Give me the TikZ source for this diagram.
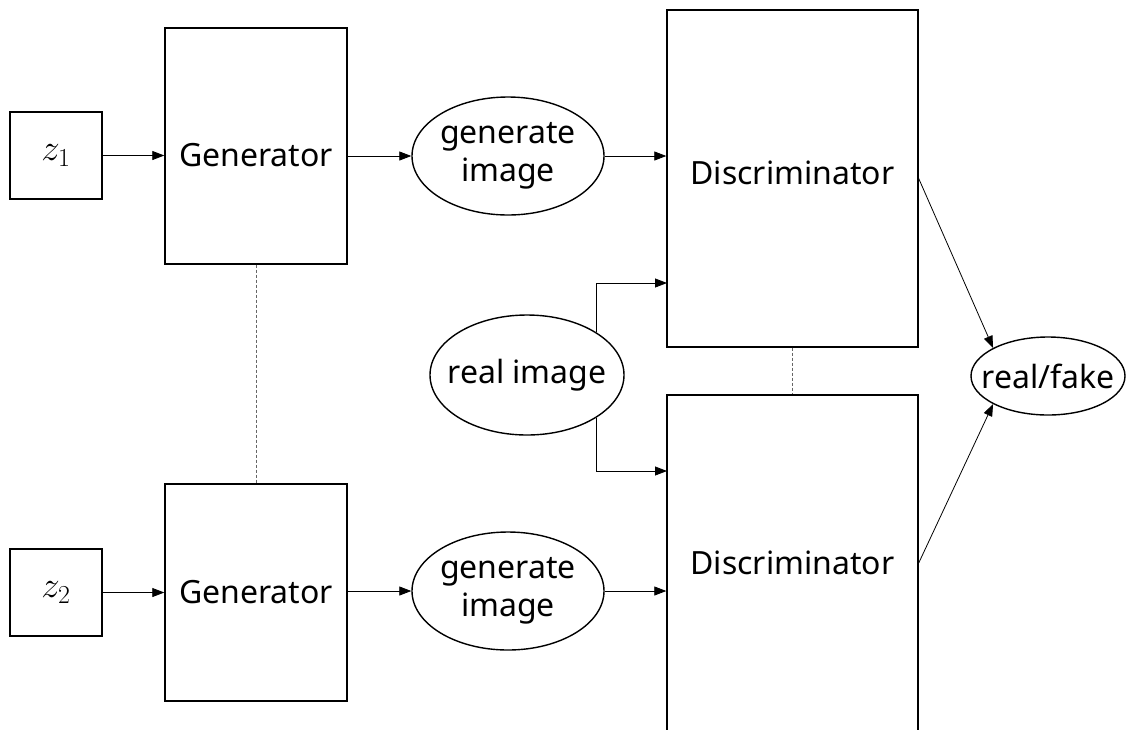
\RequirePackage{fix-cm}
\documentclass[tikz,border=0pt]{standalone}
\usepackage{fontspec}
\setmainfont{Noto Sans}
\usepackage{tikz}
\usetikzlibrary{shapes,arrows.meta}
\tikzset{blk/.style={rectangle,draw,line width=1.4pt,inner sep=0pt}}
\tikzset{ell/.style={ellipse,draw,line width=1.4pt,inner sep=0pt,align=center}}
\tikzset{lnk/.style={->,line width=0.8pt}}
\tikzset{dsh/.style={draw=black!60,line width=0.9pt,dash pattern=on 3pt off 2pt}}
\newcommand{\nowd}[1]{\makebox[0pt]{#1}}

\begin{document}
\begin{tikzpicture}[x=1pt,y=-1pt,>={Triangle[length=12pt,width=9pt]},font=\fontsize{32}{38}\selectfont]
        \clip (0,0) rectangle (1131,729);

        \node[blk,minimum width=92pt,minimum height=87pt,font=\fontsize{37}{40}\selectfont] (z1) at (56,155.5) {$z_1$};
        \node[blk,minimum width=92pt,minimum height=87pt,font=\fontsize{37}{40}\selectfont] (z2) at (56,592.5) {$z_2$};
        \node[blk,minimum width=182pt,minimum height=236pt,label={[yshift=-9pt]center:Generator}] (g1) at (256,146) {};
        \node[blk,minimum width=182pt,minimum height=217pt] (g2) at (256,592.5) {Generator};
        \node[ell,minimum width=192pt,minimum height=118pt] (e1) at (508,156) {generate\\image};
        \node[ell,minimum width=192pt,minimum height=118pt] (e2) at (508,591) {generate\\image};
        \node[ell,minimum width=194pt,minimum height=120pt] (r) at (527,375) {\nowd{real image}};
        \node[blk,minimum width=251pt,minimum height=337pt,label={[yshift=6pt]center:Discriminator}] (d1) at (792.5,178.5) {};
        \node[blk,minimum width=251pt,minimum height=336pt] (d2) at (792.5,563) {Discriminator};
        \node[ell,minimum width=154pt,minimum height=78pt] (rf) at (1048,376) {\nowd{real/fake}};

        \coordinate (d1in) at (667,283);
        \coordinate (d2in) at (667,471);

        \draw [lnk] (z1) -- (z1 -| g1.west);
        \draw [lnk] (g1.east |- e1) -- (e1);
        \draw [lnk] (e1) -- (e1 -| d1.west);
        \draw [lnk] (z2) -- (z2 -| g2.west);
        \draw [lnk] (g2.east |- e2) -- (e2);
        \draw [lnk] (e2) -- (e2 -| d2.west);
        \draw [lnk] (r.north east) |- (d1in);
        \draw [lnk] (r.south east) |- (d2in);
        \draw [lnk] (d1.east) -- (rf.north west);
        \draw [lnk] (d2.east) -- (rf.south west);

        \draw [dsh] (g1) -- (g2);
        \draw [dsh] (d1) -- (d2);
\end{tikzpicture}
\end{document}
